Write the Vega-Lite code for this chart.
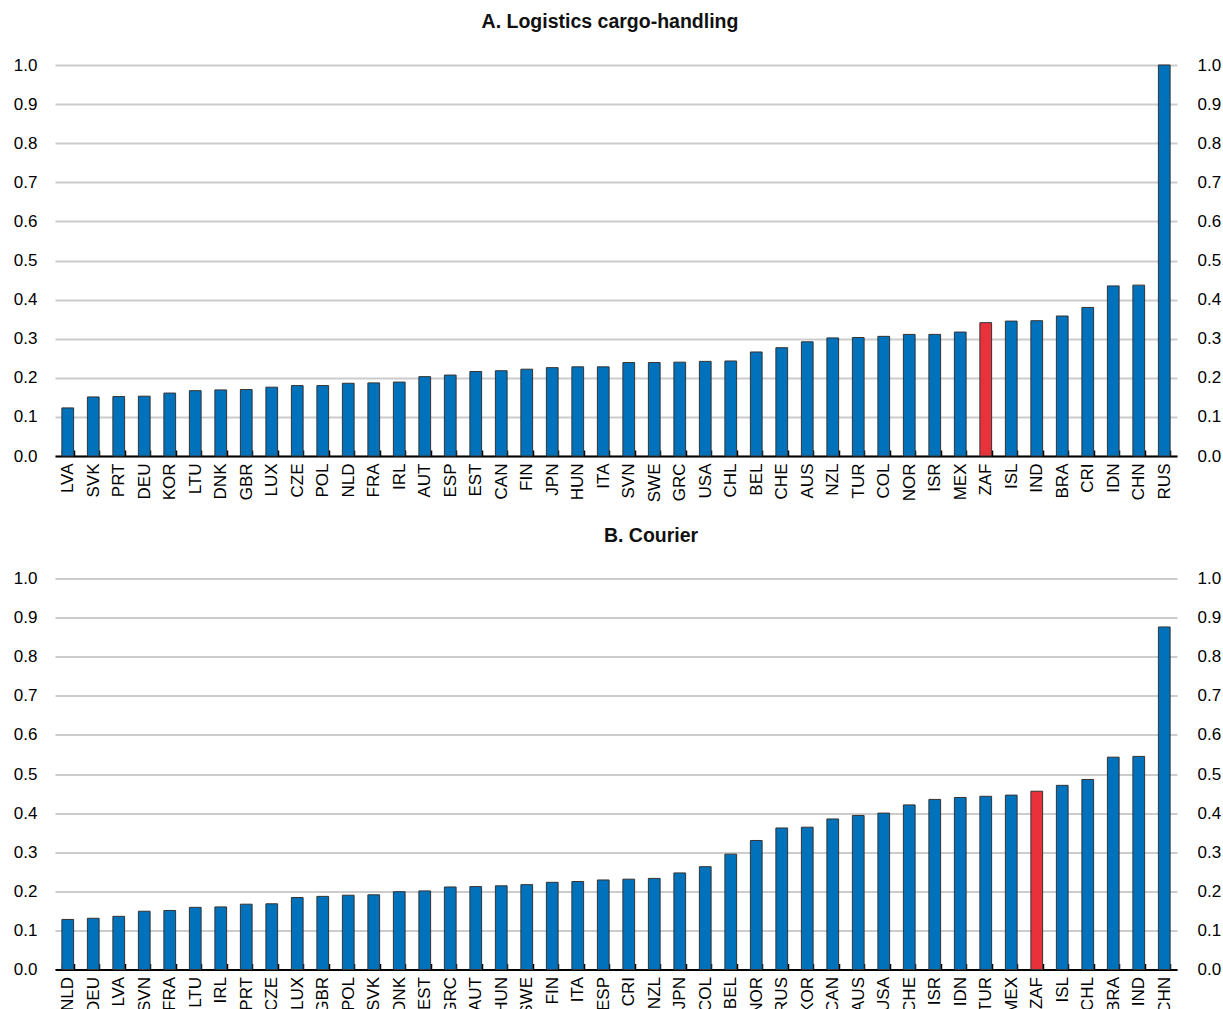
{
  "$schema": "https://vega.github.io/schema/vega-lite/v6.json",
  "background": "white",
  "padding": {"left": 13, "top": 12, "right": 2, "bottom": 0},
  "spacing": 23.5,
  "config": {
    "view": {"stroke": null},
    "font": "Liberation Sans",
    "axis": {"labelColor": "black", "labelFont": "Liberation Sans"},
    "title": {"color": "#111111"}
  },
  "vconcat": [
    {
      "title": {"text": "A. Logistics cargo-handling", "font": "Liberation Sans", "fontSize": 19.5, "fontWeight": "bold", "anchor": "middle", "offset": 23.5, "dx": -6},
      "width": 1122,
      "height": 391,
      "data": {"values": [
        {"c": "LVA", "v": 0.123}, {"c": "SVK", "v": 0.151}, {"c": "PRT", "v": 0.152}, {"c": "DEU", "v": 0.153},
        {"c": "KOR", "v": 0.161}, {"c": "LTU", "v": 0.167}, {"c": "DNK", "v": 0.169}, {"c": "GBR", "v": 0.170},
        {"c": "LUX", "v": 0.176}, {"c": "CZE", "v": 0.180}, {"c": "POL", "v": 0.180}, {"c": "NLD", "v": 0.186},
        {"c": "FRA", "v": 0.187}, {"c": "IRL", "v": 0.189}, {"c": "AUT", "v": 0.203}, {"c": "ESP", "v": 0.207},
        {"c": "EST", "v": 0.216}, {"c": "CAN", "v": 0.218}, {"c": "FIN", "v": 0.222}, {"c": "JPN", "v": 0.226},
        {"c": "HUN", "v": 0.228}, {"c": "ITA", "v": 0.228}, {"c": "SVN", "v": 0.239}, {"c": "SWE", "v": 0.239},
        {"c": "GRC", "v": 0.240}, {"c": "USA", "v": 0.242}, {"c": "CHL", "v": 0.243}, {"c": "BEL", "v": 0.266},
        {"c": "CHE", "v": 0.277}, {"c": "AUS", "v": 0.292}, {"c": "NZL", "v": 0.302}, {"c": "TUR", "v": 0.303},
        {"c": "COL", "v": 0.306}, {"c": "NOR", "v": 0.311}, {"c": "ISR", "v": 0.311}, {"c": "MEX", "v": 0.317},
        {"c": "ZAF", "v": 0.341}, {"c": "ISL", "v": 0.345}, {"c": "IND", "v": 0.346}, {"c": "BRA", "v": 0.358},
        {"c": "CRI", "v": 0.380}, {"c": "IDN", "v": 0.435}, {"c": "CHN", "v": 0.437}, {"c": "RUS", "v": 1.0}
      ]},
      "encoding": {
        "x": {"field": "c", "type": "nominal", "sort": null,
          "scale": {"paddingInner": 0.54, "paddingOuter": 0.27},
          "axis": {"title": null, "labelAngle": -90, "labelFontSize": 17, "labelPadding": 13,
            "domainColor": "black", "domainWidth": 2, "tickBand": "extent", "tickColor": "black",
            "tickWidth": 1.5, "tickSize": -6, "grid": false}}
      },
      "layer": [
        {
          "mark": {"type": "bar", "stroke": "#333333", "strokeWidth": 1},
          "encoding": {
            "y": {"field": "v", "type": "quantitative", "scale": {"domain": [0, 1]},
              "axis": {"orient": "left", "title": null, "values": [0, 0.1, 0.2, 0.3, 0.4, 0.5, 0.6, 0.7, 0.8, 0.9, 1.0],
                "format": ".1f", "domain": false, "ticks": false, "labelFontSize": 17, "labelPadding": 18,
                "grid": true, "gridColor": "#cccccc", "gridWidth": 2}},
            "color": {"condition": {"test": "datum.c === 'ZAF'", "value": "#E8313A"}, "value": "#0072BB"}
          }
        },
        {
          "mark": {"type": "bar", "opacity": 0},
          "encoding": {
            "y": {"field": "v", "type": "quantitative", "scale": {"domain": [0, 1]},
              "axis": {"orient": "right", "title": null, "values": [0, 0.1, 0.2, 0.3, 0.4, 0.5, 0.6, 0.7, 0.8, 0.9, 1.0],
                "format": ".1f", "domain": false, "ticks": false, "labelFontSize": 17, "labelPadding": 20,
                "grid": false}}
          }
        }
      ],
      "resolve": {"axis": {"y": "independent"}}
    },
    {
      "title": {"text": "B. Courier", "font": "Liberation Sans", "fontSize": 19.5, "fontWeight": "bold", "anchor": "middle", "offset": 23.5, "dx": 35},
      "width": 1122,
      "height": 391,
      "data": {"values": [
        {"c": "NLD", "v": 0.128}, {"c": "DEU", "v": 0.131}, {"c": "LVA", "v": 0.136}, {"c": "SVN", "v": 0.149},
        {"c": "FRA", "v": 0.151}, {"c": "LTU", "v": 0.159}, {"c": "IRL", "v": 0.160}, {"c": "PRT", "v": 0.167},
        {"c": "CZE", "v": 0.168}, {"c": "LUX", "v": 0.184}, {"c": "GBR", "v": 0.187}, {"c": "POL", "v": 0.190},
        {"c": "SVK", "v": 0.191}, {"c": "DNK", "v": 0.199}, {"c": "EST", "v": 0.201}, {"c": "GRC", "v": 0.211},
        {"c": "AUT", "v": 0.212}, {"c": "HUN", "v": 0.214}, {"c": "SWE", "v": 0.217}, {"c": "FIN", "v": 0.223},
        {"c": "ITA", "v": 0.225}, {"c": "ESP", "v": 0.229}, {"c": "CRI", "v": 0.231}, {"c": "NZL", "v": 0.233},
        {"c": "JPN", "v": 0.247}, {"c": "COL", "v": 0.263}, {"c": "BEL", "v": 0.295}, {"c": "NOR", "v": 0.330},
        {"c": "RUS", "v": 0.362}, {"c": "KOR", "v": 0.364}, {"c": "CAN", "v": 0.385}, {"c": "AUS", "v": 0.394},
        {"c": "USA", "v": 0.400}, {"c": "CHE", "v": 0.421}, {"c": "ISR", "v": 0.435}, {"c": "IDN", "v": 0.440},
        {"c": "TUR", "v": 0.443}, {"c": "MEX", "v": 0.446}, {"c": "ZAF", "v": 0.456}, {"c": "ISL", "v": 0.471},
        {"c": "CHL", "v": 0.486}, {"c": "BRA", "v": 0.543}, {"c": "IND", "v": 0.545}, {"c": "CHN", "v": 0.876}
      ]},
      "encoding": {
        "x": {"field": "c", "type": "nominal", "sort": null,
          "scale": {"paddingInner": 0.54, "paddingOuter": 0.27},
          "axis": {"title": null, "labelAngle": -90, "labelFontSize": 17, "labelPadding": 13,
            "domainColor": "black", "domainWidth": 2, "tickBand": "extent", "tickColor": "black",
            "tickWidth": 1.5, "tickSize": -6, "grid": false}}
      },
      "layer": [
        {
          "mark": {"type": "bar", "stroke": "#333333", "strokeWidth": 1},
          "encoding": {
            "y": {"field": "v", "type": "quantitative", "scale": {"domain": [0, 1]},
              "axis": {"orient": "left", "title": null, "values": [0, 0.1, 0.2, 0.3, 0.4, 0.5, 0.6, 0.7, 0.8, 0.9, 1.0],
                "format": ".1f", "domain": false, "ticks": false, "labelFontSize": 17, "labelPadding": 18,
                "grid": true, "gridColor": "#cccccc", "gridWidth": 2}},
            "color": {"condition": {"test": "datum.c === 'ZAF'", "value": "#E8313A"}, "value": "#0072BB"}
          }
        },
        {
          "mark": {"type": "bar", "opacity": 0},
          "encoding": {
            "y": {"field": "v", "type": "quantitative", "scale": {"domain": [0, 1]},
              "axis": {"orient": "right", "title": null, "values": [0, 0.1, 0.2, 0.3, 0.4, 0.5, 0.6, 0.7, 0.8, 0.9, 1.0],
                "format": ".1f", "domain": false, "ticks": false, "labelFontSize": 17, "labelPadding": 20,
                "grid": false}}
          }
        }
      ],
      "resolve": {"axis": {"y": "independent"}}
    }
  ]
}
